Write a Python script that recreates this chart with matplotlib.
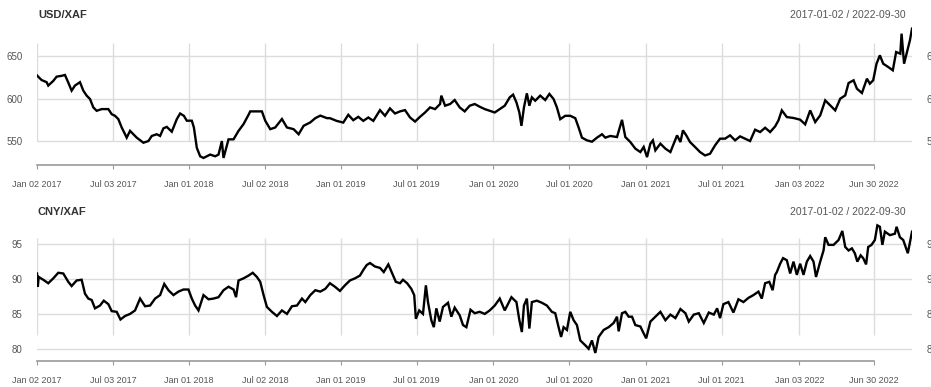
import pandas as pd
import matplotlib.pyplot as plt
import matplotlib.dates as mdates

plt.rcParams['font.family'] = ['Liberation Sans', 'DejaVu Sans']

# USD/XAF closing rates
usd_dates = [
    "2017-01-02", "2017-01-13", "2017-01-25", "2017-01-29", "2017-02-10", "2017-02-18",
    "2017-03-02", "2017-03-10", "2017-03-18", "2017-03-26", "2017-04-03", "2017-04-15",
    "2017-04-23", "2017-05-01", "2017-05-09", "2017-05-17", "2017-05-25", "2017-06-06",
    "2017-06-22", "2017-06-30", "2017-07-08", "2017-07-16", "2017-07-24", "2017-08-05",
    "2017-08-13", "2017-08-29", "2017-09-14", "2017-09-26", "2017-10-04", "2017-10-16",
    "2017-10-24", "2017-11-01", "2017-11-09", "2017-11-21", "2017-12-03", "2017-12-11",
    "2017-12-20", "2017-12-27", "2018-01-08", "2018-01-13", "2018-01-20", "2018-01-28",
    "2018-02-05", "2018-02-21", "2018-03-05", "2018-03-13", "2018-03-21", "2018-03-25",
    "2018-04-06", "2018-04-18", "2018-04-30", "2018-05-12", "2018-05-24", "2018-05-28",
    "2018-06-13", "2018-06-25", "2018-07-03", "2018-07-15", "2018-07-27", "2018-08-12",
    "2018-08-24", "2018-09-09", "2018-09-21", "2018-10-03", "2018-10-19", "2018-10-31",
    "2018-11-12", "2018-11-28", "2018-12-05", "2018-12-21", "2019-01-06", "2019-01-18",
    "2019-01-30", "2019-02-11", "2019-02-23", "2019-03-07", "2019-03-19", "2019-04-04",
    "2019-04-16", "2019-04-28", "2019-05-10", "2019-05-22", "2019-06-03", "2019-06-15",
    "2019-06-27", "2019-07-09", "2019-07-21", "2019-08-02", "2019-08-14", "2019-08-26",
    "2019-08-29", "2019-09-07", "2019-09-19", "2019-09-30", "2019-10-12", "2019-10-24",
    "2019-11-05", "2019-11-17", "2019-11-29", "2019-12-11", "2019-12-23", "2020-01-04",
    "2020-01-16", "2020-01-28", "2020-02-09", "2020-02-17", "2020-02-25", "2020-03-03",
    "2020-03-08", "2020-03-14", "2020-03-21", "2020-03-27", "2020-04-02", "2020-04-10",
    "2020-04-22", "2020-05-04", "2020-05-14", "2020-05-24", "2020-06-01", "2020-06-09",
    "2020-06-21", "2020-07-03", "2020-07-15", "2020-07-23", "2020-07-31", "2020-08-12",
    "2020-08-24", "2020-09-05", "2020-09-17", "2020-09-25", "2020-10-07", "2020-10-23",
    "2020-11-04", "2020-11-12", "2020-11-24", "2020-12-06", "2020-12-18", "2020-12-26",
    "2021-01-03", "2021-01-11", "2021-01-17", "2021-01-23", "2021-02-04", "2021-02-16",
    "2021-02-28", "2021-03-08", "2021-03-16", "2021-03-24", "2021-03-30", "2021-04-07",
    "2021-04-16", "2021-04-28", "2021-05-10", "2021-05-22", "2021-06-03", "2021-06-15",
    "2021-06-27", "2021-07-09", "2021-07-21", "2021-08-02", "2021-08-14", "2021-08-26",
    "2021-09-07", "2021-09-19", "2021-10-01", "2021-10-13", "2021-10-25", "2021-11-06",
    "2021-11-14", "2021-11-22", "2021-12-04", "2021-12-20", "2022-01-05", "2022-01-17",
    "2022-01-29", "2022-02-10", "2022-02-22", "2022-03-06", "2022-03-18", "2022-03-30",
    "2022-04-11", "2022-04-23", "2022-05-01", "2022-05-13", "2022-05-21", "2022-06-02",
    "2022-06-14", "2022-06-21", "2022-06-29", "2022-07-07", "2022-07-15", "2022-07-23",
    "2022-08-04", "2022-08-15", "2022-08-23", "2022-09-02", "2022-09-05", "2022-09-11",
    "2022-09-17", "2022-09-25", "2022-09-30",
]
usd_rates = [
    627.4, 622.0, 619.5, 615.5, 621.0, 626.0,
    627.0, 628.0, 619.0, 609.5, 615.5, 619.5,
    609.5, 603.6, 599.6, 589.7, 585.7, 587.7,
    587.7, 581.7, 579.8, 575.8, 566.0, 554.0,
    562.0, 554.0, 548.0, 550.0, 556.0, 558.0,
    556.0, 565.0, 566.7, 561.0, 575.8, 582.5,
    579.8, 574.0, 574.0, 566.0, 542.0, 532.0,
    530.0, 534.0, 532.0, 534.0, 550.0, 530.0,
    552.0, 552.0, 562.0, 570.0, 581.0, 585.0,
    585.0, 585.0, 574.0, 564.0, 566.0, 576.0,
    566.0, 564.0, 558.0, 568.0, 572.0, 577.0,
    580.0, 577.0, 577.0, 573.8, 571.8, 581.0,
    574.6, 578.6, 573.8, 577.8, 573.8, 586.5,
    579.8, 588.5, 582.5, 585.0, 586.5, 577.8,
    573.0, 578.6, 583.7, 589.7, 587.7, 593.7,
    603.6, 591.7, 593.7, 598.4, 589.7, 585.0,
    591.7, 593.7, 590.5, 587.7, 585.7, 583.7,
    587.7, 591.7, 601.6, 604.8, 595.6, 583.7,
    567.9, 589.7, 606.3, 591.7, 601.6, 597.6,
    603.6, 598.4, 605.6, 599.6, 589.7, 575.8,
    579.8, 579.8, 577.0, 566.0, 554.0, 550.8,
    549.2, 554.0, 558.0, 554.0, 556.0, 554.7,
    575.0, 554.7, 548.8, 541.0, 537.0, 543.0,
    531.0, 546.9, 550.8, 539.0, 546.9, 541.0,
    537.0, 546.9, 556.7, 548.8, 562.6, 556.7,
    548.8, 543.0, 537.0, 533.0, 535.0, 544.9,
    552.8, 552.8, 556.7, 550.8, 555.5, 552.8,
    550.0, 563.4, 560.6, 565.7, 560.6, 567.3,
    574.4, 586.2, 578.3, 577.2, 575.2, 569.7,
    586.2, 572.4, 580.3, 598.0, 592.1, 586.2,
    600.0, 603.9, 618.5, 621.7, 611.8, 606.7,
    623.6, 617.7, 621.7, 641.3, 651.2, 641.3,
    637.4, 633.5, 655.1, 653.1, 676.8, 641.3,
    653.1, 668.9, 682.7,
]

# CNY/XAF closing rates
cny_dates = [
    "2017-01-02", "2017-01-04", "2017-01-06", "2017-01-17", "2017-01-29", "2017-02-10",
    "2017-02-22", "2017-03-06", "2017-03-18", "2017-03-26", "2017-04-07", "2017-04-19",
    "2017-04-27", "2017-05-05", "2017-05-13", "2017-05-21", "2017-06-02", "2017-06-11",
    "2017-06-22", "2017-06-30", "2017-07-12", "2017-07-21", "2017-08-01", "2017-08-13",
    "2017-08-25", "2017-09-06", "2017-09-18", "2017-09-30", "2017-10-12", "2017-10-24",
    "2017-11-03", "2017-11-13", "2017-11-25", "2017-12-07", "2017-12-19", "2017-12-31",
    "2018-01-08", "2018-01-16", "2018-01-24", "2018-02-05", "2018-02-17", "2018-03-01",
    "2018-03-13", "2018-03-25", "2018-04-06", "2018-04-18", "2018-04-24", "2018-04-30",
    "2018-05-12", "2018-05-24", "2018-06-03", "2018-06-13", "2018-06-21", "2018-06-29",
    "2018-07-07", "2018-07-19", "2018-07-31", "2018-08-12", "2018-08-24", "2018-09-05",
    "2018-09-17", "2018-09-29", "2018-10-07", "2018-10-19", "2018-10-31", "2018-11-12",
    "2018-11-24", "2018-12-05", "2018-12-17", "2018-12-29", "2019-01-10", "2019-01-22",
    "2019-02-03", "2019-02-15", "2019-02-23", "2019-03-03", "2019-03-11", "2019-03-23",
    "2019-04-04", "2019-04-13", "2019-04-24", "2019-05-02", "2019-05-12", "2019-05-22",
    "2019-05-29", "2019-06-08", "2019-06-18", "2019-06-25", "2019-06-29", "2019-07-07",
    "2019-07-16", "2019-07-23", "2019-07-28", "2019-08-05", "2019-08-11", "2019-08-17",
    "2019-08-25", "2019-09-02", "2019-09-14", "2019-09-22", "2019-09-30", "2019-10-12",
    "2019-10-20", "2019-10-28", "2019-11-07", "2019-11-17", "2019-11-29", "2019-12-11",
    "2019-12-23", "2020-01-04", "2020-01-16", "2020-01-28", "2020-02-13", "2020-02-25",
    "2020-03-03", "2020-03-09", "2020-03-14", "2020-03-21", "2020-03-27", "2020-04-02",
    "2020-04-14", "2020-04-26", "2020-05-08", "2020-05-20", "2020-05-28", "2020-06-05",
    "2020-06-11", "2020-06-17", "2020-06-25", "2020-07-03", "2020-07-11", "2020-07-19",
    "2020-07-27", "2020-08-08", "2020-08-16", "2020-08-24", "2020-09-01", "2020-09-09",
    "2020-09-21", "2020-10-03", "2020-10-15", "2020-10-23", "2020-10-27", "2020-11-04",
    "2020-11-12", "2020-11-20", "2020-11-28", "2020-12-06", "2020-12-18", "2020-12-26",
    "2021-01-01", "2021-01-11", "2021-01-23", "2021-02-04", "2021-02-16", "2021-02-28",
    "2021-03-12", "2021-03-24", "2021-04-05", "2021-04-13", "2021-04-25", "2021-05-07",
    "2021-05-19", "2021-05-31", "2021-06-12", "2021-06-20", "2021-06-27", "2021-07-05",
    "2021-07-17", "2021-07-29", "2021-08-10", "2021-08-22", "2021-09-03", "2021-09-15",
    "2021-09-27", "2021-10-05", "2021-10-13", "2021-10-23", "2021-10-31", "2021-11-06",
    "2021-11-10", "2021-11-18", "2021-11-25", "2021-12-04", "2021-12-12", "2021-12-20",
    "2021-12-28", "2022-01-05", "2022-01-13", "2022-01-21", "2022-01-29", "2022-02-06",
    "2022-02-12", "2022-02-22", "2022-03-02", "2022-03-06", "2022-03-14", "2022-03-26",
    "2022-04-07", "2022-04-16", "2022-04-23", "2022-05-01", "2022-05-09", "2022-05-16",
    "2022-05-22", "2022-05-30", "2022-06-05", "2022-06-12", "2022-06-17", "2022-06-25",
    "2022-07-03", "2022-07-09", "2022-07-15", "2022-07-21", "2022-07-27", "2022-08-08",
    "2022-08-20", "2022-08-24", "2022-09-01", "2022-09-09", "2022-09-20", "2022-09-30",
]
cny_rates = [
    90.8, 88.9, 90.3, 89.9, 89.4, 90.1,
    90.9, 90.8, 89.6, 89.0, 89.8, 89.9,
    87.9, 87.2, 87.0, 85.8, 86.2, 86.9,
    86.4, 85.4, 85.3, 84.2, 84.7, 85.0,
    85.5, 87.2, 86.1, 86.2, 87.2, 87.7,
    89.3, 88.4, 87.7, 88.2, 88.5, 88.5,
    87.2, 86.2, 85.5, 87.7, 87.1, 87.2,
    87.4, 88.4, 88.9, 88.5, 87.4, 89.8,
    90.1, 90.5, 90.9, 90.3, 89.6, 87.7,
    86.0, 85.3, 84.7, 85.5, 85.0, 86.1,
    86.2, 87.2, 86.7, 87.7, 88.4, 88.2,
    88.6, 89.4, 88.9, 88.3, 89.1, 89.8,
    90.1, 90.5, 91.3, 92.0, 92.3, 91.8,
    91.6, 91.0, 92.1, 91.0, 89.6, 89.4,
    89.9, 89.4, 88.6, 87.7, 84.3, 85.5,
    85.0, 89.1, 86.7, 84.1, 83.1, 85.8,
    83.9, 86.0, 86.6, 84.6, 85.9, 84.8,
    83.4, 83.1, 85.6, 85.1, 85.3, 85.0,
    85.5, 86.2, 87.2, 85.5, 87.4, 86.7,
    84.1, 82.4, 86.2, 87.2, 82.9, 86.7,
    86.9, 86.6, 86.2, 85.3, 85.1, 83.1,
    81.7, 83.1, 82.7, 85.3, 84.1, 83.4,
    81.2, 80.5, 80.0, 81.2, 79.4, 81.7,
    82.7, 83.1, 83.7, 84.6, 82.5, 85.1,
    85.3, 84.6, 84.6, 83.4, 83.2, 82.2,
    81.5, 83.9, 84.6, 85.3, 84.1, 84.9,
    84.4, 85.7, 85.1, 83.9, 84.9, 85.1,
    83.7, 85.2, 84.9, 85.8, 84.4, 86.4,
    86.7, 85.2, 87.1, 86.7, 87.3, 87.7,
    88.2, 87.2, 89.4, 89.6, 88.4, 90.6,
    91.0, 92.2, 93.0, 92.7, 90.8, 92.5,
    90.6, 92.2, 90.6, 92.5, 93.3, 92.5,
    90.3, 92.5, 94.1, 96.0, 94.9, 94.9,
    95.6, 96.9, 94.6, 94.1, 94.4, 93.7,
    92.5, 93.4, 93.0, 92.1, 94.6, 94.9,
    95.6, 97.7, 97.5, 94.9, 96.8, 96.3,
    96.5, 97.5, 96.0, 95.6, 93.7, 96.8,
]

tick_dates = [
    "2017-01-02", "2017-07-03", "2018-01-01", "2018-07-02", "2019-01-01", "2019-07-01",
    "2020-01-01", "2020-07-01", "2021-01-01", "2021-07-01", "2022-01-03", "2022-06-30",
]
tick_labels = [
    "Jan 02 2017", "Jul 03 2017", "Jan 01 2018", "Jul 02 2018", "Jan 01 2019", "Jul 01 2019",
    "Jan 01 2020", "Jul 01 2020", "Jan 01 2021", "Jul 01 2021", "Jan 03 2022", "Jun 30 2022",
]
usd_yticks = [550, 600, 650]
cny_yticks = [80, 85, 90, 95]
range_label = "2017-01-02 / 2022-09-30"

W, H = 931, 387
GRID = "#dcdcdc"
AXIS = "#9a9a9a"
TEXT = "#555555"


def panel(top, bottom, ylim, vspan, dates, rates, yticks, title, title_y):
    ax = fig.add_axes([37 / W, 1 - bottom / H, (912 - 37) / W, (bottom - top) / H])
    x = mdates.date2num(pd.to_datetime(dates))
    ticks = mdates.date2num(pd.to_datetime(tick_dates))

    # light grid: full-width horizontals, shorter verticals at the date ticks
    for y in yticks:
        ax.axhline(y, color=GRID, lw=1, zorder=0)
    ax.vlines(ticks, vspan[0], vspan[1], color=GRID, lw=1, zorder=0)

    ax.plot(x, rates, color="black", lw=1.7, solid_joinstyle="miter", zorder=2)

    ax.set_xlim(mdates.date2num(pd.Timestamp("2017-01-02")),
                mdates.date2num(pd.Timestamp("2022-09-30")))
    ax.set_ylim(*ylim)
    for side in ("top", "left", "right"):
        ax.spines[side].set_visible(False)
    ax.spines["bottom"].set_color(AXIS)
    ax.spines["bottom"].set_linewidth(1.2)
    ax.spines["bottom"].set_bounds(ticks[0], ticks[-1])

    ax.set_xticks(ticks)
    ax.set_xticklabels(tick_labels, fontsize=6.5, color=TEXT)
    ax.tick_params(axis="x", length=3, color=AXIS, pad=8)

    ax.set_yticks(yticks)
    ax.set_yticklabels([str(v) for v in yticks], fontsize=7, color=TEXT)
    ax.tick_params(axis="y", left=False, right=False, labelleft=True,
                   labelright=True, pad=7)
    ax.patch.set_alpha(0)

    fig.text(38 / W, 1 - title_y / H, title, fontsize=8, fontweight="bold",
             color="#333333", va="center", ha="left")
    fig.text(906 / W, 1 - title_y / H, range_label, fontsize=7.5,
             color=TEXT, va="center", ha="right")
    return ax


fig = plt.figure(figsize=(W / 100, H / 100), dpi=100)

panel(20, 165, (521.7, 692.9), (550, 665.7), usd_dates, usd_rates,
      usd_yticks, "USD/XAF", 15)
panel(220, 360.7, (78.29, 98.47), (81.97, 95.9), cny_dates, cny_rates,
      cny_yticks, "CNY/XAF", 212)

fig.savefig("out.png", dpi=100, facecolor="white")
